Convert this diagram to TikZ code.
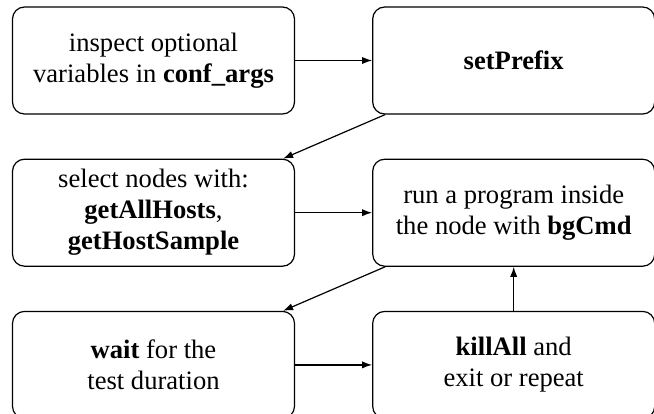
\documentclass[tikz,border=0pt]{standalone}
\usepackage{fontspec}
\setmainfont{Liberation Serif}
\usetikzlibrary{positioning,arrows.meta}

\tikzset{
    box/.style={draw, line width=0.6pt, rounded corners=6pt,
        minimum width=141pt, minimum height=53.5pt, align=center,
        font=\fontsize{13.3}{15.5}\selectfont, inner sep=2pt},
    arr/.style={line width=0.6pt, -{Latex[length=5pt,width=3.6pt]}}
}

\begin{document}
\begin{tikzpicture}

    % --- Frame of the picture ---
    \clip (0,0) rectangle (327pt,-206.5pt);

    % --- Boxes, left column ---
    \node[box] (inspect) at (76.75pt,-30.25pt)
        {inspect optional\\variables in \textbf{conf\_args}};
    \node[box, below=22pt of inspect] (select)
        {select nodes with:\\\textbf{getAllHosts},\\\textbf{getHostSample}};
    \node[box, below=22pt of select] (wait)
        {\textbf{wait} for the\\test duration};

    % --- Boxes, right column ---
    \node[box, right=38.5pt of inspect] (prefix) {\textbf{setPrefix}};
    \node[box, right=38.5pt of select] (run)
        {run a program inside\\the node with \textbf{bgCmd}};
    \node[box, right=38.5pt of wait] (kill)
        {\textbf{killAll} and\\exit or repeat};

    % --- Arrows ---
    \draw[arr] (inspect) -- (prefix);
    \draw[arr] ([xshift=6.5pt]prefix.south west) -- ([xshift=-6pt]select.north east);
    \draw[arr] (select) -- (run);
    \draw[arr] ([xshift=6.5pt]run.south west) -- ([xshift=-6pt]wait.north east);
    \draw[arr] (wait) -- (kill);
    \draw[arr] (kill) -- (run);

\end{tikzpicture}
\end{document}
